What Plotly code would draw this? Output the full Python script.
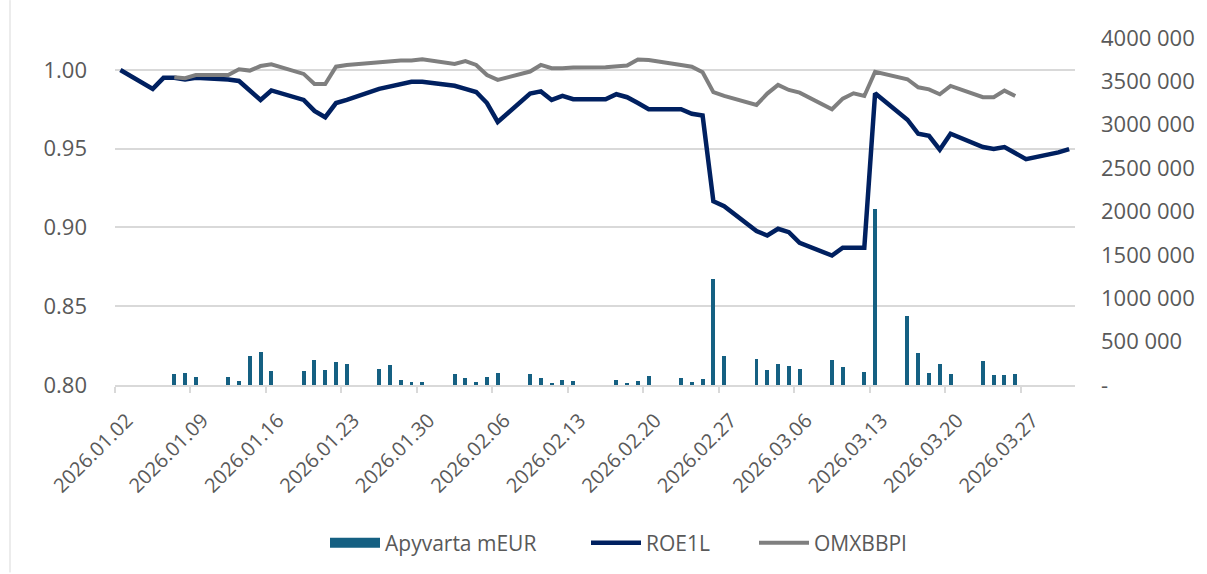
import pandas as pd
import plotly.graph_objects as go

dates = [
    "2026-01-02",
    "2026-01-05", "2026-01-06", "2026-01-07", "2026-01-08", "2026-01-09",
    "2026-01-12", "2026-01-13", "2026-01-14", "2026-01-15", "2026-01-16",
    "2026-01-19", "2026-01-20", "2026-01-21", "2026-01-22", "2026-01-23",
    "2026-01-26", "2026-01-27", "2026-01-28", "2026-01-29", "2026-01-30",
    "2026-02-02", "2026-02-03", "2026-02-04", "2026-02-05", "2026-02-06",
    "2026-02-09", "2026-02-10", "2026-02-11", "2026-02-12", "2026-02-13",
    "2026-02-16", "2026-02-17", "2026-02-18", "2026-02-19", "2026-02-20",
    "2026-02-23", "2026-02-24", "2026-02-25", "2026-02-26", "2026-02-27",
    "2026-03-02", "2026-03-03", "2026-03-04", "2026-03-05", "2026-03-06",
    "2026-03-09", "2026-03-10", "2026-03-11", "2026-03-12", "2026-03-13",
    "2026-03-16", "2026-03-17", "2026-03-18", "2026-03-19", "2026-03-20",
    "2026-03-23", "2026-03-24", "2026-03-25", "2026-03-26", "2026-03-27",
    "2026-03-30", "2026-03-31",
]

roe1l = [
    1.000,
    0.988, 0.995, 0.995, 0.994, 0.995,
    0.994, 0.993, 0.987, 0.981, 0.987,
    0.981, 0.974, 0.970, 0.979, 0.981,
    0.988, 0.9895, 0.9905, 0.9925, 0.9925,
    0.990, 0.988, 0.986, 0.979, 0.967,
    0.985, 0.9864, 0.981, 0.9835, 0.9814,
    0.9814, 0.9846, 0.9827, 0.979, 0.9751,
    0.9751, 0.9722, 0.9711, 0.9166, 0.9135,
    0.8977, 0.8949, 0.8992, 0.897, 0.8903,
    0.8822, 0.8872, 0.8872, 0.8872, 0.9852,
    0.9684, 0.9595, 0.9582, 0.9494, 0.9595,
    0.9511, 0.9498, 0.9511, 0.9472, 0.9434,
    0.9477, 0.9498,
]

omxbbpi = [
    None,
    None, None, 0.9954, 0.9948, 0.9968,
    0.9968, 1.0004, 0.9996, 1.0025, 1.0036,
    0.9975, 0.9911, 0.9911, 1.0021, 1.0032,
    1.0050, 1.0053, 1.0060, 1.0060, 1.0068,
    1.0038, 1.0056, 1.0032, 0.9968, 0.9937,
    0.9990, 1.0032, 1.0011, 1.0011, 1.0015,
    1.0018, 1.0021, 1.0028, 1.0066, 1.0063,
    1.0032, 1.0021, 0.9985, 0.9859, 0.9835,
    0.9778, 0.9850, 0.9905, 0.9873, 0.9856,
    0.9751, 0.9818, 0.9852, 0.9835, 0.9989,
    0.9941, 0.9890, 0.9877, 0.9846, 0.9899,
    0.9827, 0.9827, 0.9869, 0.9835, None,
    None, None,
]

apyvarta = [
    None,
    None, None, 123000, 141000, 95000,
    89000, 50000, 337000, 376000, 161000,
    157000, 287000, 172000, 264000, 241000,
    184000, 226000, 57000, 31000, 35000,
    123000, 77000, 31000, 92000, 134000,
    126000, 77000, 12000, 54000, 46000,
    None, 54000, 23000, 42000, 100000,
    84000, 31000, 69000, 1226000, 337000,
    303000, 169000, 238000, 215000, 180000,
    284000, 207000, None, 146000, 2030000,
    793000, 364000, 142000, 245000, 126000,
    272000, 119000, 111000, 126000, None,
    None, None,
]

x_tick_labels = [
    "2026.01.02", "2026.01.09", "2026.01.16", "2026.01.23", "2026.01.30",
    "2026.02.06", "2026.02.13", "2026.02.20", "2026.02.27", "2026.03.06",
    "2026.03.13", "2026.03.20", "2026.03.27",
]
left_ticks = [0.80, 0.85, 0.90, 0.95, 1.00]
right_ticks = [0, 500000, 1000000, 1500000, 2000000, 2500000, 3000000, 3500000, 4000000]
right_tick_labels = ["-", "500 000", "1000 000", "1500 000", "2000 000",
                     "2500 000", "3000 000", "3500 000", "4000 000"]

series_names = ["Apyvarta mEUR", "ROE1L", "OMXBBPI"]

x = pd.to_datetime(dates)
# Excel date axis "between tick marks": ticks sit at the left edge of each day cell
tick_pos = pd.to_datetime(x_tick_labels, format="%Y.%m.%d") - pd.Timedelta(hours=12)

FONT = "Open Sans"
TXT = "#595959"
GRID = "#D9D9D9"
BAR_C = "#156082"

fig = go.Figure()
fig.add_trace(go.Bar(
    x=x, y=apyvarta, name=series_names[0], yaxis="y2",
    marker=dict(color=BAR_C, line=dict(width=0)),
    width=0.37 * 86400000, showlegend=False, legendgroup="bar",
))
fig.add_trace(go.Scatter(
    x=x, y=roe1l, name=series_names[1], mode="lines",
    line=dict(color="#002060", width=4.5), connectgaps=False, legend="legend2",
))
fig.add_trace(go.Scatter(
    x=x, y=omxbbpi, name=series_names[2], mode="lines",
    line=dict(color="#7F7F7F", width=4), connectgaps=False, legend="legend3",
))
# legend swatch for the bar series (wide rectangle like Excel's)
fig.add_trace(go.Scatter(
    x=[None], y=[None], name=series_names[0], mode="lines", yaxis="y2",
    line=dict(color=BAR_C, width=14), legend="legend", legendgroup="bar",
    hoverinfo="skip",
))

LEG_Y = (386 - 543) / 348
leg_common = dict(orientation="h", y=LEG_Y, yanchor="middle", xanchor="left",
                  itemwidth=50, font=dict(size=21, color=TXT),
                  bgcolor="rgba(0,0,0,0)", borderwidth=0)

fig.update_layout(
    width=1207, height=574,
    margin=dict(l=115, r=132, t=38, b=188),
    paper_bgcolor="white", plot_bgcolor="white",
    font=dict(family=FONT, size=21, color=TXT),
    showlegend=True,
    legend=dict(x=(325 - 115) / 960, **leg_common),
    legend2=dict(x=(586 - 115) / 960, **leg_common),
    legend3=dict(x=(754 - 115) / 960, **leg_common),
    bargap=0,
    xaxis=dict(
        type="date",
        range=[pd.Timestamp("2026-01-01 12:00"), pd.Timestamp("2026-03-31 13:00")],
        tickvals=tick_pos, ticktext=x_tick_labels, tickangle=-45,
        showgrid=False, showline=True, linecolor=GRID, linewidth=1.5,
        ticks="outside", ticklen=6, tickcolor=GRID, tickwidth=1.5,
        tickfont=dict(size=20, color=TXT), zeroline=False,
        ticklabelstandoff=8, ticklabelshift=12,
    ),
    yaxis=dict(
        range=[0.80, 1.0203], tickvals=left_ticks, tickformat=".2f",
        showgrid=True, gridcolor=GRID, gridwidth=1.5, zeroline=False,
        showline=False, ticks="", tickfont=dict(size=22, color=TXT),
        ticklabelstandoff=27,
    ),
    yaxis2=dict(
        range=[0, 4000000], tickvals=right_ticks, ticktext=right_tick_labels,
        overlaying="y", side="right", showgrid=False, zeroline=False,
        showline=False, ticks="", tickfont=dict(size=22, color=TXT),
        ticklabelstandoff=25,
    ),
)
fig.add_shape(type="line", xref="paper", yref="paper", x0=-105/960, x1=-105/960,
              y0=-188/348, y1=(348+38)/348, line=dict(color="#D9D9D9", width=1))

fig.write_html("out.html", config={"displayModeBar": False},
               post_script="document.body.style.margin='0';document.body.style.padding='0';")
